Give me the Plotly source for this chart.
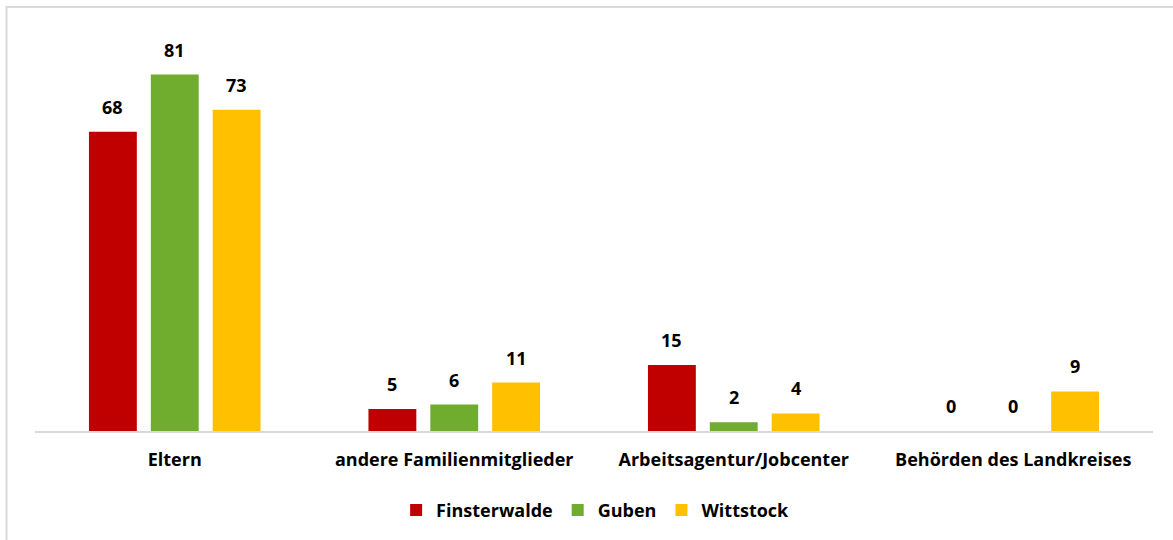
import plotly.graph_objects as go

categories = ["Eltern", "andere Familienmitglieder", "Arbeitsagentur/Jobcenter", "Behörden des Landkreises"]
finsterwalde = [68, 5, 15, 0]
guben = [81, 6, 2, 0]
wittstock = [73, 11, 4, 9]

series = [
    ("Finsterwalde", finsterwalde, "#C00000"),
    ("Guben", guben, "#70AD2F"),
    ("Wittstock", wittstock, "#FFC000"),
]

FONT = "'Open Sans', Lato, sans-serif"
FSIZE = 18

fig = go.Figure()
offsets = [-62, 0, 62]
for (name, vals, color), dx in zip(series, offsets):
    fig.add_trace(go.Bar(
        name=f"<b>{name}</b>", x=categories, y=vals,
        marker=dict(color=color, line=dict(width=0)),
    ))
    for cat, v in zip(categories, vals):
        fig.add_annotation(
            x=cat, y=v, text=f"<b>{v}</b>", showarrow=False,
            xref="x", yref="y", xshift=dx, yanchor="bottom", yshift=11,
            font=dict(family=FONT, size=FSIZE, color="#000000"),
        )

# outer chart frame
fig.add_shape(type="rect", xref="paper", yref="paper",
              x0=-0.0255, x1=1.03, y0=-0.3, y1=1.0316,
              line=dict(color="#D9D9D9", width=2), fillcolor="rgba(0,0,0,0)",
              layer="below")

fig.update_layout(
    width=1173, height=540,
    margin=dict(l=35, r=20, t=20, b=108),
    paper_bgcolor="white", plot_bgcolor="white",
    barmode="group", bargap=0.336, bargroupgap=0.226,
    showlegend=True,
    legend=dict(orientation="h", x=0.501, xanchor="center", y=-0.19, yanchor="middle",
                font=dict(family=FONT, size=FSIZE, color="#000000"),
                itemwidth=30, traceorder="normal"),
    font=dict(family=FONT, size=FSIZE, color="#000000"),
)
fig.update_xaxes(showline=True, linecolor="#D9D9D9", linewidth=2,
                 ticks="", tickfont=dict(family=FONT, size=FSIZE, color="#000000"),
                 ticklabelstandoff=11,
                 tickvals=categories, ticktext=[f"<b>{c}</b>" for c in categories])
fig.update_yaxes(range=[0, 93.4], visible=False, showgrid=False, zeroline=False)

fig.write_html("out.html")
